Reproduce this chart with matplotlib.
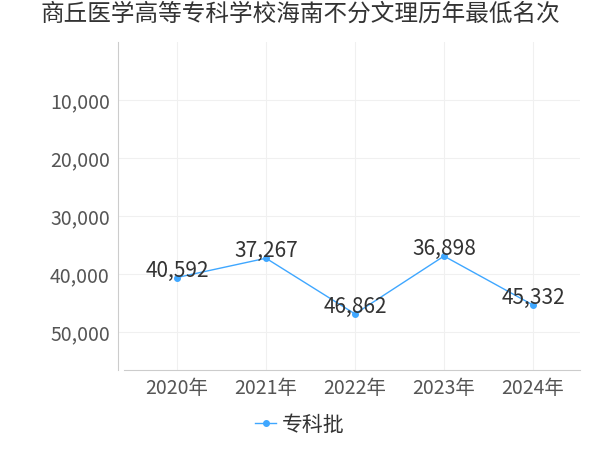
import matplotlib
matplotlib.use("Agg")
import matplotlib.pyplot as plt

plt.rcParams['font.family'] = ['Noto Sans CJK SC', 'DejaVu Sans']

years = ["2020年", "2021年", "2022年", "2023年", "2024年"]
values = [40592, 37267, 46862, 36898, 45332]
series_name = "专科批"
title = "商丘医学高等专科学校海南不分文理历年最低名次"
yticks = [10000, 20000, 30000, 40000, 50000]

fig = plt.figure(figsize=(6, 4.5), dpi=100)
ax = fig.add_axes([0.197, 0.178, 0.77, 0.729])
x = list(range(len(years)))
color = "#3fa7ff"
ax.plot(x, values, color=color, lw=1, marker='o', ms=4, label=series_name)
for xi, v in zip(x, values):
    ax.annotate(f"{v:,}", (xi, v), xytext=(0, -3), textcoords='offset points',
                ha='center', va='bottom', fontsize=15, color='#333333')
ax.set_ylim(56500, 0)
ax.set_xlim(-0.66, 4.53)
ax.set_yticks(yticks)
ax.set_yticklabels([f"{t:,}" for t in yticks])
ax.set_xticks(x)
ax.set_xticklabels(years)
ax.tick_params(labelsize=14, colors='#555555', length=0, pad=6)
ax.grid(True, color='#f0f0f0', lw=0.8)
for s in ['top', 'right']:
    ax.spines[s].set_visible(False)
ax.spines['left'].set_color('#cccccc')
ax.spines['bottom'].set_color('#cccccc')
ax.spines['bottom'].set_bounds(-0.6, 4.53)
fig.suptitle(title, fontsize=17, color='#333333', y=0.995)
fig.legend(loc='lower center', bbox_to_anchor=(0.5, -0.01), frameon=False,
           fontsize=15, handlelength=1.0, handletextpad=0.3, labelcolor='#333333')
fig.savefig("out.png")
